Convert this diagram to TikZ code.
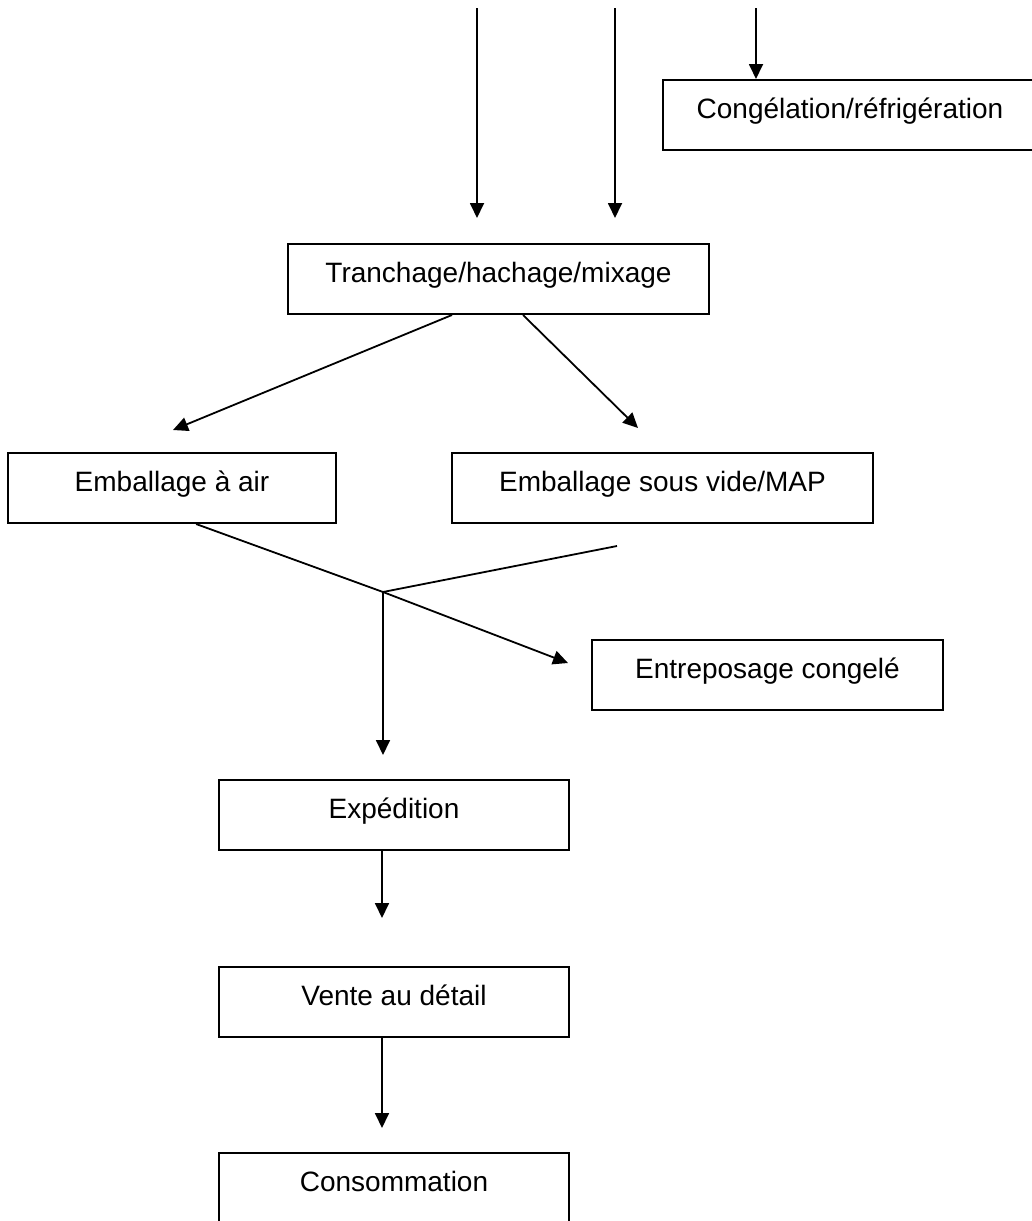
\documentclass[tikz,border=0pt]{standalone}
\usepackage{fontspec}
\setmainfont{Liberation Sans}
\usetikzlibrary{arrows.meta,calc}
\begin{document}
\begin{tikzpicture}[x=0.5pt,y=-0.5pt,
  stepbox/.style={draw, line width=1pt, anchor=north, inner sep=0pt,
    minimum height=35pt, text height=19pt, text depth=16pt,
    font=\fontsize{14}{16}\selectfont},
  wire/.style={line width=0.9pt},
  flow/.style={wire, -{Triangle[length=7.5pt,width=7pt]}}]
\useasboundingbox (0,0) rectangle (1032,1221);

% process steps
\node[stepbox, minimum width=187pt]   (cong)   at (850,79)    {Congélation/réfrigération};
\node[stepbox, minimum width=210.5pt] (tranch) at (498.5,243) {Tranchage/hachage/mixage};
\node[stepbox, minimum width=164pt]   (air)    at (172,452)   {Emballage à air};
\node[stepbox, minimum width=210.5pt] (vide)   at (662.5,452) {Emballage sous vide/MAP};
\node[stepbox, minimum width=175.5pt] (entre)  at (767.5,639) {Entreposage congelé};
\node[stepbox, minimum width=175pt]   (exp)    at (394,779)   {Expédition};
\node[stepbox, minimum width=175pt]   (vente)  at (394,966)   {Vente au détail};
\node[stepbox, minimum width=175pt]   (cons)   at (394,1152)  {Consommation};

% incoming flows at the top
\coordinate (in1) at (477,8);   \coordinate (in1e) at (477,218);
\coordinate (in2) at (615,8);   \coordinate (in2e) at (615,218);
\coordinate (in3) at (756,8);
\draw[flow] (in1) -- (in1e);
\draw[flow] (in2) -- (in2e);
\draw[flow] (in3) -- (in3 |- cong.north);

% split after slicing
\coordinate (tl) at ($(tranch.south west)!0.39!(tranch.south east)$);
\coordinate (tr) at ($(tranch.south west)!0.558!(tranch.south east)$);
\coordinate (airin)  at (173,430);
\coordinate (videin) at (638,428);
\draw[flow] (tl) -- (airin);
\draw[flow] (tr) -- (videin);

% packaging branches merging
\coordinate (ab) at ($(air.south west)!0.573!(air.south east)$);
\coordinate (videout) at (617,546);
\coordinate (J) at (383,592);
\coordinate (entrein) at (568,663);
\coordinate (expin) at (383,755);
\draw[wire] (ab) -- (J);
\draw[wire] (videout) -- (J);
\draw[flow] (J) -- (entrein);
\draw[flow] (J) -- (expin);

% distribution chain
\coordinate (e1) at (382,918);
\coordinate (v1) at (382,1128);
\draw[flow] (e1 |- exp.south) -- (e1);
\draw[flow] (v1 |- vente.south) -- (v1);
\end{tikzpicture}
\end{document}
